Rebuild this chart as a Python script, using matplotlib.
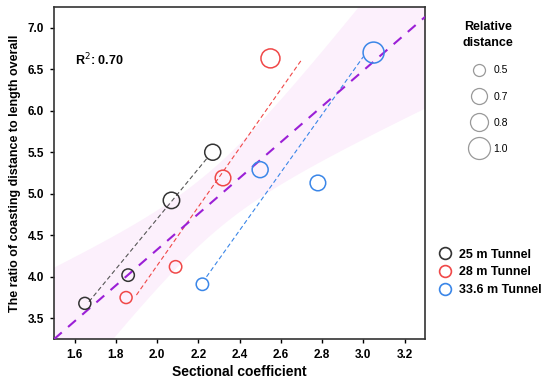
import numpy as np
import matplotlib.pyplot as plt
from matplotlib.lines import Line2D

plt.rcParams['font.family'] = ['Liberation Sans', 'DejaVu Sans']

# sectional coefficient, ratio, relative distance for each tunnel
x25 = [1.65, 1.86, 2.07, 2.27]
y25 = [3.68, 4.02, 4.92, 5.50]
rd25 = [0.50, 0.52, 0.72, 0.70]

x28 = [1.85, 2.09, 2.32, 2.55]
y28 = [3.75, 4.12, 5.19, 6.63]
rd28 = [0.50, 0.52, 0.68, 0.85]

x336 = [2.22, 2.50, 2.78, 3.05]
y336 = [3.91, 5.29, 5.13, 6.70]
rd336 = [0.52, 0.70, 0.68, 0.95]

# per-tunnel trend lines as drawn (start / end)
line25_x = [1.67, 2.24]
line25_y = [3.70, 5.42]
line28_x = [1.90, 2.70]
line28_y = [3.78, 6.61]
line336_x = [2.24, 3.00]
line336_y = [4.00, 6.65]

legend_rd = [0.5, 0.7, 0.8, 1.0]
names = ['25 m Tunnel', '28 m Tunnel', '33.6 m Tunnel']
colors = ['#333333', '#f04848', '#3a86e8']
line_colors = ['#555555', '#f04848', '#3a86e8']


def msize(rd):
    # marker diameter in points
    d_px = 2 + 20 * np.asarray(rd)
    return (d_px * 0.72) ** 2


fig = plt.figure(figsize=(5.5, 3.84), dpi=100)
ax = fig.add_axes([0.098, 0.117, 0.675, 0.865])

# overall regression and 95% confidence band
xa = np.array(x25 + x28 + x336)
ya = np.array(y25 + y28 + y336)
slope, inter = np.polyfit(xa, ya, 1)
n = len(xa)
xm = xa.mean()
sxx = ((xa - xm) ** 2).sum()
resid = ya - (slope * xa + inter)
s = np.sqrt((resid ** 2).sum() / (n - 2))
xs = np.linspace(1.5, 3.3, 200)
fit = slope * xs + inter
hw = 2.228 * s * np.sqrt(1 / n + (xs - xm) ** 2 / sxx)
r2 = 1 - (resid ** 2).sum() / ((ya - ya.mean()) ** 2).sum()

ax.fill_between(xs, fit - hw, fit + hw, color='#fcf0fc', lw=0, zorder=1)
ax.plot(xs, fit, color='#9b1fd6', lw=1.5, dashes=(5, 4), zorder=3)

groups = [(x25, y25, rd25, line25_x, line25_y),
          (x28, y28, rd28, line28_x, line28_y),
          (x336, y336, rd336, line336_x, line336_y)]
for (gx, gy, grd, lx, ly), c, lc in zip(groups, colors, line_colors):
    ax.plot(lx, ly, color=lc, lw=0.8, dashes=(4, 2.5), zorder=2)
    ax.scatter(gx, gy, s=msize(grd), facecolors='none', edgecolors=c,
               linewidths=1.1, zorder=4)

ax.text(1.6, 6.55, 'R$^2$: %.2f' % r2, fontsize=9, fontweight='bold')

ax.set_xlim(1.5, 3.3)
ax.set_ylim(3.25, 7.25)
ax.set_xticks(np.arange(1.6, 3.21, 0.2))
ax.set_yticks(np.arange(3.5, 7.01, 0.5))
ax.xaxis.set_major_formatter(plt.FormatStrFormatter('%.1f'))
ax.yaxis.set_major_formatter(plt.FormatStrFormatter('%.1f'))
for lab in ax.get_xticklabels() + ax.get_yticklabels():
    lab.set_fontweight('bold')
ax.tick_params(labelsize=8.5, length=3, width=1, pad=4)
for sp in ax.spines.values():
    sp.set_linewidth(1.2)
    sp.set_color('#333333')
ax.set_xlabel('Sectional coefficient', fontsize=10, fontweight='bold', labelpad=3)
ax.set_ylabel('The ratio of coasting distance to length overall', fontsize=9,
              fontweight='bold', labelpad=5)

# relative distance size legend
size_handles = [Line2D([], [], ls='none', marker='o', mfc='none', mec='#999999',
                       mew=0.9, markersize=(2 + 20 * r) * 0.72) for r in legend_rd]
leg1 = fig.legend(size_handles, ['%.1f' % r for r in legend_rd],
                  title='Relative\ndistance', loc='upper left',
                  bbox_to_anchor=(0.828, 0.965), frameon=False, fontsize=7.5,
                  title_fontproperties={'weight': 'bold', 'size': 9},
                  labelspacing=1.55, handletextpad=0.4, borderpad=0.2)
leg1._legend_box.align = 'center'
leg1.get_title().set_multialignment('center')
leg1.get_title().set_linespacing(1.5)
leg1._legend_box._children[1].sep = 8

tun_handles = [Line2D([], [], ls='none', marker='o', mfc='none', mec=c,
                      mew=1.2, markersize=8.5) for c in colors]
fig.legend(tun_handles, names, loc='upper left', bbox_to_anchor=(0.77, 0.375),
           frameon=False, prop={'weight': 'bold', 'size': 9},
           labelspacing=0.45, handletextpad=0.15, borderpad=0.2)

fig.savefig('out.png', dpi=100)
